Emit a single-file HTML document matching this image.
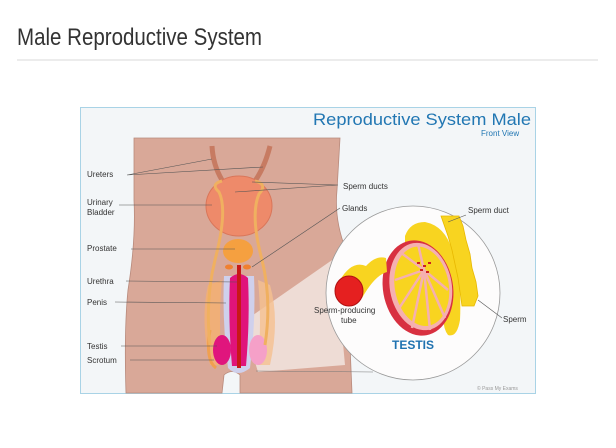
<!DOCTYPE html>
<html><head><meta charset="utf-8"><style>
html,body{margin:0;padding:0;background:#fff;width:616px;height:448px;overflow:hidden}
svg{display:block}
text{font-family:"Liberation Sans","DejaVu Sans",sans-serif}
</style></head><body>
<svg width="616" height="448" viewBox="0 0 616 448" xmlns="http://www.w3.org/2000/svg">
<text x="17" y="45" font-size="24" fill="#333" textLength="245" lengthAdjust="spacingAndGlyphs">Male Reproductive System</text>
<rect x="17" y="59" width="581" height="2" fill="#ececec"/>
<rect x="80.5" y="107.5" width="455" height="286" fill="#f3f6f8" stroke="#a9d3e6"/>
<text x="313" y="125" font-size="17" fill="#2277b3" textLength="218" lengthAdjust="spacingAndGlyphs">Reproductive System Male</text>
<text x="481" y="136" font-size="8" fill="#2277b3">Front View</text>
<!-- body -->
<path d="M134 138 H340 L337 190 Q334 220 346 250 L352 393 H240 L240 375 Q232 368 224 375 L222 393 H126 Q124 330 128 290 Q136 240 134 200 Z" fill="#d9a898" stroke="#b88a7c" stroke-width="0.8"/>
<path d="M243 322 L335 258 L345 365 L258 372 Z" fill="#eedcd5"/>
<line x1="256" y1="371" x2="373" y2="372" stroke="#777" stroke-width="0.6"/>
<!-- ureters -->
<path d="M212 146 Q213 165 222 180" stroke="#c77b62" stroke-width="5" fill="none"/>
<path d="M270 146 Q264 170 252 185" stroke="#c77b62" stroke-width="5" fill="none"/>
<ellipse cx="239" cy="206" rx="33" ry="30" fill="#ee8a6a" stroke="#d9765a"/>
<ellipse cx="238" cy="251" rx="15" ry="12" fill="#f5a040"/>
<ellipse cx="229" cy="267" rx="4" ry="2.5" fill="#f08030"/><ellipse cx="247" cy="267" rx="4" ry="2.5" fill="#f08030"/>
<path d="M208 285 Q200 320 210 365 L222 365 Q218 320 222 280 Z" fill="#f5b070" opacity="0.8"/>
<path d="M270 285 Q280 320 270 365 L258 365 Q262 320 258 280 Z" fill="#f5c090" opacity="0.8"/>
<path d="M224 276 Q222 320 228 368 Q238 378 250 368 Q256 320 254 276 Z" fill="#cfd0ec"/>
<path d="M230 278 Q228 320 232 366 L246 366 Q250 320 248 278 Q239 270 230 278 Z" fill="#e0147a"/>
<rect x="237" y="265" width="4" height="103" fill="#c81818"/>
<ellipse cx="222" cy="350" rx="9" ry="15" fill="#e0157d"/>
<ellipse cx="258" cy="350" rx="9" ry="15" fill="#f5a0c8"/>
<path d="M210 330 Q205 360 216 368" stroke="#f0a050" stroke-width="3" fill="none"/>
<path d="M222 181 Q210 184 219 192 Q228 210 215 260 Q205 300 210 345" stroke="#f0b060" stroke-width="3" fill="none"/>
<path d="M255 181 Q268 184 259 194 Q250 215 262 260 Q272 300 265 345" stroke="#f0b060" stroke-width="3" fill="none"/>
<!-- testis circle -->
<circle cx="413" cy="293" r="87" fill="#fdfcfc" stroke="#999" stroke-width="0.8"/>
<!-- epididymis cap -->
<path d="M405 236 Q410 222 425 222 Q445 226 452 250 Q462 280 460 320 Q457 338 448 335 Q440 325 446 300 Q448 270 430 250 Q418 244 405 246 Z" fill="#f8d420"/>
<!-- sperm duct chain -->
<path d="M441 216 h18 l4 10 l3 14 l4 14 l2 14 l4 14 l2 14 l-4 10 h-12 l-2 -14 l-2 -14 l-3 -14 l-3 -14 l-4 -14 z" fill="#f8d420" stroke="#e8b800" stroke-width="0.8"/>
<!-- testis body -->
<g transform="rotate(-10 418 288)">
<ellipse cx="418" cy="288" rx="35" ry="48" fill="#d83040"/>
<ellipse cx="421" cy="287" rx="31" ry="44" fill="#f5b0b0"/>
<ellipse cx="422" cy="287" rx="27" ry="40" fill="#f8d420"/>
</g>
<g stroke="#f5b0b0" stroke-width="2.5">
<line x1="424" y1="270" x2="400" y2="252"/><line x1="424" y1="270" x2="395" y2="280"/>
<line x1="424" y1="270" x2="398" y2="310"/><line x1="424" y1="270" x2="412" y2="328"/>
<line x1="424" y1="270" x2="430" y2="330"/><line x1="424" y1="270" x2="445" y2="318"/>
<line x1="424" y1="270" x2="448" y2="290"/><line x1="424" y1="270" x2="418" y2="244"/>
</g>
<g fill="#cc2020"><rect x="417" y="262" width="3" height="2"/><rect x="423" y="265" width="3" height="2"/><rect x="428" y="262" width="3" height="2"/><rect x="420" y="269" width="3" height="2"/><rect x="426" y="271" width="3" height="2"/></g>
<!-- tube -->
<path d="M340 280 Q352 260 366 266 Q376 255 386 258 L387 272 Q375 275 362 298 Z" fill="#f8d420"/>
<ellipse cx="349" cy="291" rx="14" ry="15" fill="#e52020" stroke="#b01010"/>
<text x="314" y="313" font-size="8" fill="#333">Sperm-producing</text>
<text x="341" y="323" font-size="8" fill="#333">tube</text>
<text x="392" y="349" font-size="12" font-weight="bold" fill="#1f72b0">TESTIS</text>
<g font-size="8" fill="#333">
<text x="87" y="177">Ureters</text>
<text x="87" y="205">Urinary</text><text x="87" y="215">Bladder</text>
<text x="87" y="251">Prostate</text>
<text x="87" y="284">Urethra</text>
<text x="87" y="305">Penis</text>
<text x="87" y="349">Testis</text>
<text x="87" y="363">Scrotum</text>
<text x="343" y="189">Sperm ducts</text>
<text x="342" y="211">Glands</text>
<text x="468" y="213">Sperm duct</text>
<text x="503" y="322">Sperm</text>
<text x="477" y="390" font-size="5" fill="#999">© Pass My Exams</text>
</g>
<g stroke="#555" stroke-width="0.6" fill="none">
<path d="M127 175 L212 159 M127 175 L263 167"/>
<path d="M119 205 L212 205"/>
<path d="M131 249 L235 249"/>
<path d="M126 281 L237 282"/>
<path d="M115 302 L226 303"/>
<path d="M121 346 L217 346"/>
<path d="M130 360 L214 360"/>
<path d="M338 185 L252 182 M338 185 L235 192"/>
<path d="M340 208 L252 267"/>
<path d="M466 215 L448 222"/>
<path d="M502 318 L478 300"/>
</g>
</svg>
</body></html>
